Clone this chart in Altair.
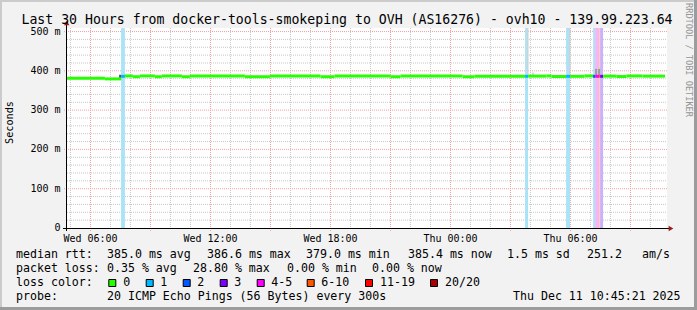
import altair as alt
import pandas as pd

# ---------------- data ----------------
loss_labels = ['0', '1', '2', '3', '4-5', '6-10', '11-19', '20/20']
loss_colors = ['#26ff00', '#00b8ff', '#0059ff', '#7e00ff', '#ff00ff', '#ff5500', '#ff0000', '#a80000']
loss_bg_labels = ['1', '2', '3', '4-5', '6-10']
loss_bg_colors = ['#a9e3f8', '#a9c4fb', '#ccb0fb', '#f6b4f6', '#fbcaae']

# median segments, hours since Wed 00:00, value in ms
med_start = [4.83, 6.72, 7.53, 7.72, 8.12, 8.47, 9.22, 9.57, 10.57, 10.97, 13.72, 14.97, 17.50, 18.20,
             21.00, 21.50, 24.60, 25.20, 27.73, 27.88, 28.80, 29.05, 29.78, 29.98, 30.70, 31.13, 31.23,
             31.43, 31.48, 31.63, 32.30, 32.80, 33.60]
med_end = med_start[1:] + [34.73]
med_ms = [381, 379.5, 386, 387, 385, 387, 385, 387, 385, 387, 385, 387, 385, 387,
          385, 387, 385, 386.5, 386, 386.5, 387, 385.5, 386, 386, 387, 386, 386,
          386, 386, 386.5, 385.5, 387, 386.5]
med_loss = ['0', '0', '1', '0', '0', '0', '0', '0', '0', '0', '0', '0', '0', '0',
            '0', '0', '0', '0', '1', '0', '0', '0', '1', '0', '0', '2', '4-5',
            '6-10', '3', '0', '0', '0', '0']

# loss background bars
bar_start = [7.53, 27.73, 29.78, 31.13, 31.23, 31.43, 31.48]
bar_end = [7.72, 27.88, 29.98, 31.23, 31.43, 31.48, 31.63]
bar_loss = ['1', '1', '1', '1', '4-5', '6-10', '3']

# smoke (spread of the pings)
smoke_start = [7.43, 27.83, 28.10, 29.93, 31.23, 31.38]
smoke_end = [7.53, 27.90, 28.15, 30.00, 31.33, 31.48]
smoke_lo = [377, 386, 388, 386, 388, 388]
smoke_hi = [390, 509, 396, 509, 405, 405]
smoke_col = ['#555555', '#d2d2d2', '#b0b0b0', '#d2d2d2', '#9a9a9a', '#9a9a9a']

x_ticks = [6, 12, 18, 24, 30]
x_tick_labels = ['Wed 06:00', 'Wed 12:00', 'Wed 18:00', 'Thu 00:00', 'Thu 06:00']
y_ticks = [0, 100, 200, 300, 400, 500]
y_tick_labels = ['0', '100 m', '200 m', '300 m', '400 m', '500 m']

title_text = 'Last 30 Hours from docker-tools-smokeping to OVH (AS16276) - ovh10 - 139.99.223.64'

legend_texts = ['median rtt:', '385.0 ms avg', '386.6 ms max', '379.0 ms min', '385.4 ms now',
                '1.5 ms sd', '251.2', 'am/s',
                'packet loss:', '0.35 % avg', '28.80 % max', '0.00 % min', '0.00 % now',
                'loss color:',
                'probe:', '20 ICMP Echo Pings (56 Bytes) every 300s', 'Thu Dec 11 10:45:21 2025']
legend_x = [16, 107, 207, 306, 408, 507, 587, 642,
            16, 107, 193, 287, 372,
            16,
            16, 107, 513]
legend_y = [258, 258, 258, 258, 258, 258, 258, 258,
            272, 272, 272, 272, 272,
            286,
            300, 300, 300]
swatch_x = [108.3, 145.7, 182.7, 219.7, 256.7, 306.7, 365, 430]
swatch_label_x = [123.3, 160.3, 197.3, 234.3, 271.3, 321.3, 380, 445]

# ---------------- layout ----------------
W, H = 600, 200
L, T = 67, 28
X0, X1 = 4.825, 34.825
YMAX = 509
MONO = 'DejaVu Sans Mono'

xs = alt.Scale(domain=[X0, X1], nice=False, zero=False)
ys = alt.Scale(domain=[0, YMAX], nice=False, zero=False)

bg_map = dict(zip(loss_bg_labels, loss_bg_colors))
bars = pd.DataFrame({'h0': bar_start, 'h1': bar_end, 'c': [bg_map[l] for l in bar_loss]})
bar_layer = alt.Chart(bars).mark_rect().encode(
    x=alt.X('h0:Q', scale=xs, axis=None), x2='h1',
    y=alt.value(0), y2=alt.value(H),
    color=alt.Color('c:N', scale=None))

minor_x = [h for h in range(5, 35) if h % 3 != 0]
major_x = [h for h in range(6, 35) if h % 3 == 0]
minor_y = [v for v in range(20, 501, 20) if v % 100 != 0]
major_y = [100, 200, 300, 400, 500]

GRID = '#c8c8c8'
MGRID = '#f3a3a3'
gx_minor = alt.Chart(pd.DataFrame({'h': minor_x})).mark_rule(
    color=GRID, strokeDash=[1, 1], strokeWidth=1).encode(
    x=alt.X('h:Q', scale=xs, axis=None), y=alt.value(0), y2=alt.value(H))
gy_minor = alt.Chart(pd.DataFrame({'v': minor_y})).mark_rule(
    color=GRID, strokeDash=[1, 1], strokeWidth=1).encode(
    y=alt.Y('v:Q', scale=ys, axis=None), x=alt.value(0), x2=alt.value(W))
gx_major = alt.Chart(pd.DataFrame({'h': major_x})).mark_rule(
    color=MGRID, strokeDash=[1, 1], strokeWidth=1).encode(
    x=alt.X('h:Q', scale=xs, axis=None), y=alt.value(0), y2=alt.value(H + 3))
gy_major = alt.Chart(pd.DataFrame({'v': major_y})).mark_rule(
    color=MGRID, strokeDash=[1, 1], strokeWidth=1).encode(
    y=alt.Y('v:Q', scale=ys, axis=None), x=alt.value(-3), x2=alt.value(W))

smoke = pd.DataFrame({'h0': smoke_start, 'h1': smoke_end, 'lo': smoke_lo, 'hi': smoke_hi, 'c': smoke_col})
smoke_layer = alt.Chart(smoke).mark_rect().encode(
    x=alt.X('h0:Q', scale=xs, axis=None), x2='h1',
    y=alt.Y('lo:Q', scale=ys, axis=None), y2='hi',
    color=alt.Color('c:N', scale=None))

med = pd.DataFrame({'h0': med_start, 'h1': med_end, 'ms': med_ms, 'loss': med_loss})
med_layer = alt.Chart(med).mark_rule(strokeWidth=3, strokeCap='butt').encode(
    x=alt.X('h0:Q', scale=xs, axis=None), x2='h1',
    y=alt.Y('ms:Q', scale=ys, axis=None),
    color=alt.Color('loss:N', scale=alt.Scale(domain=loss_labels, range=loss_colors), legend=None))

# tick labels through the scales
xlab_layer = alt.Chart(pd.DataFrame({'v': x_ticks, 't': x_tick_labels})).mark_text(
    font=MONO, fontSize=10, align='center', baseline='alphabetic', color='#000000').encode(
    x=alt.X('v:Q', scale=xs, axis=None), y=alt.value(H + 14), text='t:N')
ylab_layer2 = alt.Chart(pd.DataFrame({'v': y_ticks, 't': y_tick_labels})).mark_text(
    font=MONO, fontSize=10, align='right', baseline='middle', color='#000000').encode(
    y=alt.Y('v:Q', scale=ys, axis=None), x=alt.value(-6.5), text='t:N')

# axis lines and arrows
axis_y_line = alt.Chart(pd.DataFrame({'a': [0]})).mark_rule(color='#000000', strokeWidth=1).encode(
    x=alt.value(-0.5), y=alt.value(-5), y2=alt.value(H + 3))
axis_x_line = alt.Chart(pd.DataFrame({'a': [0]})).mark_rule(color='#000000', strokeWidth=1).encode(
    x=alt.value(-4), x2=alt.value(W + 3), y=alt.value(H + 0.5))
arrow_up = alt.Chart(pd.DataFrame({'a': [0]})).mark_point(
    shape='triangle-up', filled=True, color='#9b1b1b', size=30, opacity=1).encode(
    x=alt.value(-0.3), y=alt.value(-5))
arrow_right = alt.Chart(pd.DataFrame({'a': [0]})).mark_point(
    shape='triangle-right', filled=True, color='#9b1b1b', size=30, opacity=1).encode(
    x=alt.value(W + 4), y=alt.value(H + 0.5))

# texts
title_layer = alt.Chart(pd.DataFrame({'t': [title_text]})).mark_text(
    font=MONO, fontSize=13.2, align='center', baseline='alphabetic', color='#000000').encode(
    text='t:N', x=alt.value(347 - L), y=alt.value(24 - T))
ylab_layer = alt.Chart(pd.DataFrame({'t': ['Seconds']})).mark_text(
    font=MONO, fontSize=10.2, align='center', baseline='middle', angle=270, color='#000000').encode(
    text='t:N', x=alt.value(10 - L), y=alt.value(122.5 - T))
wm_layer = alt.Chart(pd.DataFrame({'t': ['RRDTOOL / TOBI OETIKER']})).mark_text(
    font=MONO, fontSize=8.6, align='center', baseline='middle', angle=90, color='#959595').encode(
    text='t:N', x=alt.value(688.5 - L), y=alt.value(60 - T))

leg = pd.DataFrame({'t': legend_texts + loss_labels,
                    'px': [v - L for v in legend_x] + [v - L for v in swatch_label_x],
                    'py': [v - T for v in legend_y] + [286 - T] * len(loss_labels)})
leg_layer = alt.Chart(leg).mark_text(
    font=MONO, fontSize=11.6, align='left', baseline='alphabetic', color='#000000').encode(
    text='t:N', x=alt.X('px:Q', scale=None, axis=None), y=alt.Y('py:Q', scale=None, axis=None))

sw = pd.DataFrame({'x0': [v - L + 0.5 for v in swatch_x], 'x1': [v - L + 7.5 for v in swatch_x],
                   'y0': [279.5 - T] * 8, 'y1': [286.5 - T] * 8, 'c': loss_colors})
sw_layer = alt.Chart(sw).mark_rect(stroke='#000000', strokeWidth=1).encode(
    x=alt.X('x0:Q', scale=None, axis=None), x2='x1',
    y=alt.Y('y0:Q', scale=None, axis=None), y2='y1',
    color=alt.Color('c:N', scale=None))

# frame of the picture
frame = pd.DataFrame({
    'x0': [-L, -L, 694 - L, -L], 'x1': [-L + 2, 697 - L, 697 - L, 697 - L],
    'y0': [-T, -T, -T, 307 - T], 'y1': [310 - T, -T + 2, 310 - T, 310 - T],
    'c': ['#cbcbcb', '#cbcbcb', '#9c9c9c', '#9c9c9c']})
frame_layer = alt.Chart(frame).mark_rect().encode(
    x=alt.X('x0:Q', scale=None, axis=None), x2='x1',
    y=alt.Y('y0:Q', scale=None, axis=None), y2='y1',
    color=alt.Color('c:N', scale=None))

chart = alt.layer(
    gx_minor, gy_minor, gx_major, gy_major, bar_layer, smoke_layer, med_layer,
    axis_y_line, axis_x_line, arrow_up, arrow_right, xlab_layer, ylab_layer2,
    title_layer, ylab_layer, wm_layer, leg_layer, sw_layer, frame_layer
).properties(
    width=W, height=H,
    padding={'left': L, 'top': T, 'right': 697 - L - W, 'bottom': 310 - T - H},
    autosize=alt.AutoSizeParams(type='none')
).configure(background='#f2f2f2').configure_view(stroke=None, fill='#ffffff')

chart.save('out.html', embed_options={'renderer': 'svg', 'actions': False})
